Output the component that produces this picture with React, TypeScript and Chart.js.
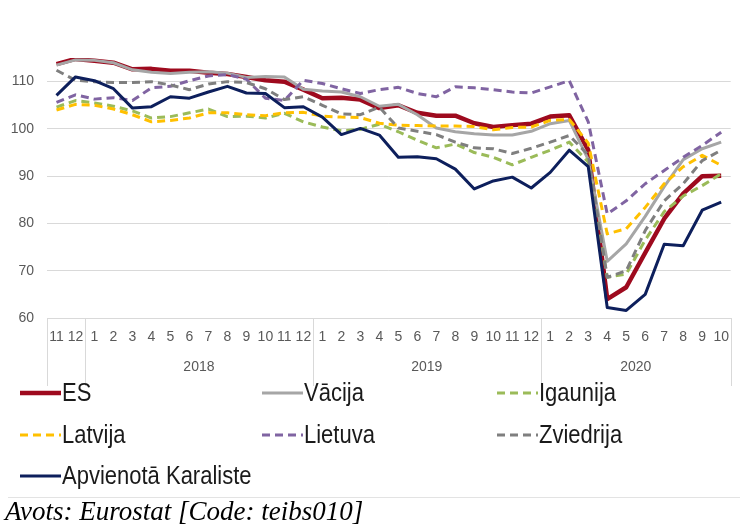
import React, { useEffect, useRef } from 'react';
import { Chart, registerables } from 'chart.js';

Chart.register(...registerables);

// ---- Data ----
const months = ['11', '12',
  '1', '2', '3', '4', '5', '6', '7', '8', '9', '10', '11', '12',
  '1', '2', '3', '4', '5', '6', '7', '8', '9', '10', '11', '12',
  '1', '2', '3', '4', '5', '6', '7', '8', '9', '10'];
const years = ['', '2018', '2019', '2020'];
const yTicks = [60, 70, 80, 90, 100, 110];

const ES = [113.7, 114.8, 114.4, 114.0, 112.6, 112.7, 112.3, 112.3, 111.9, 111.6, 111.0, 110.3, 110.0, 108.3, 106.5, 106.6, 106.2, 104.4, 105.0, 103.4, 102.8, 102.8, 101.2, 100.4, 100.8, 101.1, 102.6, 102.9, 95.5, 64.0, 66.5, 73.8, 81.0, 86.3, 90.0, 90.1];
const Vacija = [113.5, 114.6, 114.5, 114.0, 112.5, 112.0, 111.7, 112.0, 112.1, 111.8, 110.9, 111.1, 111.0, 108.4, 108.0, 107.8, 106.8, 104.8, 105.2, 103.0, 100.2, 99.4, 99.0, 98.7, 98.7, 99.5, 101.1, 101.8, 93.5, 72.0, 75.7, 81.5, 87.8, 93.5, 95.8, 97.2];
const Igaunija = [104.6, 106.0, 105.5, 104.8, 103.8, 102.3, 102.6, 103.4, 104.2, 102.6, 102.7, 102.3, 103.3, 101.5, 100.4, 99.6, 99.9, 101.0, 99.4, 97.6, 96.0, 96.8, 95.0, 94.0, 92.4, 94.0, 95.5, 97.2, 93.0, 68.6, 69.3, 76.5, 82.5, 85.8, 88.0, 90.5];
const Latvija = [104.0, 105.2, 105.0, 104.2, 103.0, 101.5, 101.8, 102.3, 103.4, 103.4, 103.0, 102.8, 103.4, 103.5, 102.7, 102.5, 102.4, 101.2, 100.8, 100.7, 100.6, 100.6, 100.5, 99.8, 100.3, 100.4, 101.8, 102.0, 97.0, 77.8, 78.9, 83.4, 88.4, 92.0, 94.4, 92.3];
const Lietuva = [105.6, 107.2, 106.3, 106.6, 106.0, 108.7, 109.0, 110.2, 111.2, 111.5, 110.5, 106.5, 106.0, 110.3, 109.6, 108.5, 107.5, 108.3, 108.8, 107.5, 106.8, 108.9, 108.7, 108.3, 107.8, 107.6, 108.9, 110.2, 101.5, 82.0, 84.8, 88.4, 91.2, 94.0, 96.5, 99.3];
const Zviedrija = [112.4, 110.3, 110.0, 109.8, 109.8, 110.0, 109.3, 108.3, 109.5, 110.0, 109.8, 108.5, 106.2, 106.8, 105.0, 103.2, 103.0, 104.6, 100.2, 99.5, 98.8, 97.2, 96.0, 95.8, 94.8, 95.9, 97.2, 98.6, 94.5, 68.6, 70.0, 78.5, 84.8, 88.4, 93.3, 95.5];
const Apvienota = [107.1, 111.0, 110.2, 108.5, 104.4, 104.7, 106.8, 106.5, 107.8, 109.0, 107.6, 107.5, 104.5, 104.7, 102.5, 98.8, 100.1, 98.7, 94.0, 94.1, 93.7, 91.5, 87.3, 89.0, 89.8, 87.5, 90.8, 95.5, 92.0, 62.2, 61.6, 65.0, 75.6, 75.3, 82.8, 84.5];

const seriesNames = ['ES', 'Vācija', 'Igaunija', 'Latvija', 'Lietuva', 'Zviedrija', 'Apvienotā Karaliste'];
const seriesValues = [ES, Vacija, Igaunija, Latvija, Lietuva, Zviedrija, Apvienota];
const seriesColors = ['#9e0a1e', '#a6a6a6', '#9bbb59', '#ffc000', '#8064a2', '#7f7f7f', '#0d1f5c'];
const seriesDashed = [false, false, true, true, true, true, false];
const seriesWidths = [4.5, 3, 3, 3, 3, 3, 3];

const SANS = "'Liberation Sans', Arial, sans-serif";

const extrasPlugin = {
  id: 'excelExtras',
  afterDraw(chart: any) {
    const { ctx, chartArea } = chart;
    const x = chart.scales.x;
    const n = months.length;
    const catW = (chartArea.right - chartArea.left) / n;
    const starts = [0];
    months.forEach((m, i) => { if (m === '1' && i > 0) starts.push(i); });
    const ends = [...starts.slice(1), n];
    const axisTop = chartArea.bottom;
    const axisBottom = chartArea.bottom + 68;
    ctx.save();
    ctx.strokeStyle = '#d9d9d9';
    ctx.lineWidth = 1;
    const bounds = [...starts, n];
    bounds.forEach((b) => {
      const px = Math.round(x.getPixelForValue(Math.min(b, n - 1)) + (b >= n ? catW / 2 : -catW / 2)) + 0.5;
      ctx.beginPath();
      ctx.moveTo(px, axisTop);
      ctx.lineTo(px, axisBottom);
      ctx.stroke();
    });
    ctx.fillStyle = '#595959';
    ctx.font = `14px ${SANS}`;
    ctx.textAlign = 'center';
    ctx.textBaseline = 'middle';
    starts.forEach((s, gi) => {
      const label = years[gi];
      if (!label) return;
      const cx = (x.getPixelForValue(s) + x.getPixelForValue(ends[gi] - 1)) / 2;
      ctx.fillText(label, cx, 367);
    });

    // Legend in a 3-column grid
    const cols = [20, 262, 497];
    const rows = [393, 435, 476];
    chart.data.datasets.forEach((ds: any, i: number) => {
      const cx = cols[i % 3];
      const cy = rows[Math.floor(i / 3)];
      ctx.save();
      ctx.strokeStyle = ds.borderColor;
      ctx.lineWidth = ds.borderWidth;
      ctx.setLineDash(ds.borderDash || []);
      ctx.beginPath();
      ctx.moveTo(cx, cy);
      ctx.lineTo(cx + 41, cy);
      ctx.stroke();
      ctx.restore();
      ctx.save();
      ctx.translate(cx + 42, cy + 1);
      ctx.scale(0.88, 1);
      ctx.fillStyle = '#1a1a1a';
      ctx.font = `25px ${SANS}`;
      ctx.textAlign = 'left';
      ctx.textBaseline = 'middle';
      ctx.fillText(ds.label, 0, 0);
      ctx.restore();
    });

    // chart box bottom border
    ctx.strokeStyle = '#e3e3e3';
    ctx.lineWidth = 1;
    ctx.beginPath();
    ctx.moveTo(8, 497.5);
    ctx.lineTo(740, 497.5);
    ctx.stroke();
    ctx.restore();
  },
};

export default function App() {
  const ref = useRef<HTMLCanvasElement | null>(null);
  useEffect(() => {
    if (!ref.current) return;
    const chart = new Chart(ref.current, {
      type: 'line',
      data: {
        labels: months,
        datasets: seriesNames.map((name, i) => ({
          label: name,
          data: seriesValues[i],
          borderColor: seriesColors[i],
          backgroundColor: seriesColors[i],
          borderWidth: seriesWidths[i],
          borderDash: seriesDashed[i] ? [8, 5] : [],
          pointRadius: 0,
          tension: 0,
          borderJoinStyle: 'round' as const,
          order: seriesNames.length - i,
        })),
      },
      options: {
        animation: false,
        responsive: false,
        maintainAspectRatio: false,
        layout: { padding: { top: 58, left: 0, right: 2, bottom: 114 } },
        plugins: {
          legend: { display: false },
          tooltip: { enabled: false },
        },
        scales: {
          x: {
            type: 'category',
            offset: true,
            grid: { display: false, drawTicks: false },
            border: { display: true, color: '#d9d9d9' },
            ticks: {
              autoSkip: false,
              maxRotation: 0,
              padding: 11,
              color: '#595959',
              font: { family: SANS, size: 14 },
            },
            afterFit: (s: any) => { s.height = 68; },
          },
          y: {
            min: 60,
            max: 115,
            afterBuildTicks: (s: any) => { s.ticks = yTicks.map((v) => ({ value: v })); },
            grid: { color: '#d9d9d9', drawTicks: false },
            border: { display: false },
            ticks: {
              padding: 13,
              color: '#595959',
              font: { family: SANS, size: 14 },
            },
            afterFit: (s: any) => { s.width = 47; },
          },
        },
      },
      plugins: [extrasPlugin],
    });
    return () => chart.destroy();
  }, []);

  return (
    <div style={{ position: 'absolute', left: 0, top: 0, width: 740, height: 525, background: '#fff', overflow: 'hidden' }}>
      <canvas ref={ref} width={740} height={500} style={{ display: 'block', width: 740, height: 500 }} />
      <div style={{ position: 'absolute', left: 5, top: 497, fontFamily: "'Liberation Serif', 'DejaVu Serif', serif", fontStyle: 'italic', fontSize: 27, lineHeight: '28px', color: '#000', whiteSpace: 'nowrap' }}>
        Avots: Eurostat [Code: teibs010]
      </div>
    </div>
  );
}
